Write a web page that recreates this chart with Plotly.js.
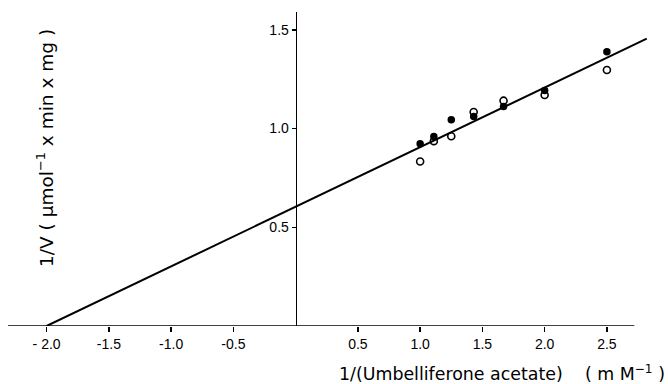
<!DOCTYPE html>
<html>
<head>
<meta charset="utf-8">
<script src="https://cdn.plot.ly/plotly-3.0.1.min.js"></script>
<style>html,body{margin:0;padding:0;background:#fff;}</style>
</head>
<body>
<div id="chart" style="width:668px;height:384px;"></div>
<script>
// Substrate concentrations (reciprocal, mM^-1)
const invS = [1.0, 1.11, 1.25, 1.43, 1.67, 2.0, 2.5];
// 1/V values, filled circles
const filledInvV = [0.923, 0.96, 1.045, 1.061, 1.111, 1.192, 1.389];
// 1/V values, open circles
const openInvV = [0.833, 0.936, 0.961, 1.084, 1.141, 1.17, 1.296];
// Fitted line (Lineweaver-Burk) end points
const fitX = [-2.0, 2.82];
const fitY = [0, 1.455];
// Tick labels
const xTickVals = [-2.0, -1.5, -1.0, -0.5, 0.5, 1.0, 1.5, 2.0, 2.5];
const xTickText = ['- 2.0', '-1.5', '-1.0', '-0.5', '0.5', '1.0', '1.5', '2.0', '2.5'];
const yTickVals = [0.5, 1.0, 1.5];
const yTickText = ['0.5', '1.0', '1.5'];

const xRange = [-2.31, 2.83];
const font = 'Liberation Sans, Arial, sans-serif';
const titleFont = 'DejaVu Sans, sans-serif';

const traces = [
  {x: fitX, y: fitY, mode: 'lines', line: {color: '#000', width: 2}, hoverinfo: 'skip', showlegend: false},
  {x: invS, y: openInvV, mode: 'markers', marker: {symbol: 'circle-open', size: 7, color: '#000', line: {width: 1.6, color: '#000'}}, showlegend: false},
  {x: invS, y: filledInvV, mode: 'markers', marker: {symbol: 'circle', size: 7.5, color: '#000'}, showlegend: false}
];

const layout = {
  width: 668, height: 384,
  margin: {l: 8, r: 20, t: 12, b: 58},
  paper_bgcolor: '#fff', plot_bgcolor: '#fff',
  font: {family: font, color: '#000', size: 13},
  showlegend: false,
  xaxis: {
    range: xRange, showgrid: false, zeroline: false, showline: false,
    ticks: 'outside', ticklen: 5, tickwidth: 1.5, tickcolor: '#000',
    tickvals: xTickVals, ticktext: xTickText,
    tickfont: {family: font, size: 14, color: '#000'}
  },
  yaxis: {
    range: [0, 1.59], showgrid: false, zeroline: false,
    anchor: 'free', position: (0 - xRange[0]) / (xRange[1] - xRange[0]),
    showline: true, linewidth: 1.5, linecolor: '#000',
    ticks: 'outside', ticklen: 4, tickwidth: 1.5, tickcolor: '#000',
    tickvals: yTickVals, ticktext: yTickText,
    tickfont: {family: font, size: 14, color: '#000'}
  },
  shapes: [
    {type: 'line', xref: 'x', yref: 'y', x0: -2.31, x1: 2.72, y0: 0, y1: 0, line: {color: '#000', width: 1.5}}
  ],
  annotations: [
    {text: '1/(Umbelliferone acetate)&nbsp;&nbsp;&nbsp;&nbsp;( m M<sup>−1</sup> )', xref: 'paper', yref: 'paper',
     x: (337 - 8) / 640, y: -(373 - 326) / 314, xanchor: 'left', yanchor: 'middle', showarrow: false,
     font: {family: titleFont, size: 17.4, color: '#000'}},
    {text: '1/V ( µmol<sup>−1</sup> x min x mg )', xref: 'paper', yref: 'paper',
     x: (45 - 8) / 640, y: (326 - 148) / 314, xanchor: 'center', yanchor: 'middle', textangle: -90, showarrow: false,
     font: {family: titleFont, size: 18.5, color: '#000'}}
  ]
};

Plotly.newPlot('chart', traces, layout, {staticPlot: true, displayModeBar: false});
</script>
</body>
</html>
